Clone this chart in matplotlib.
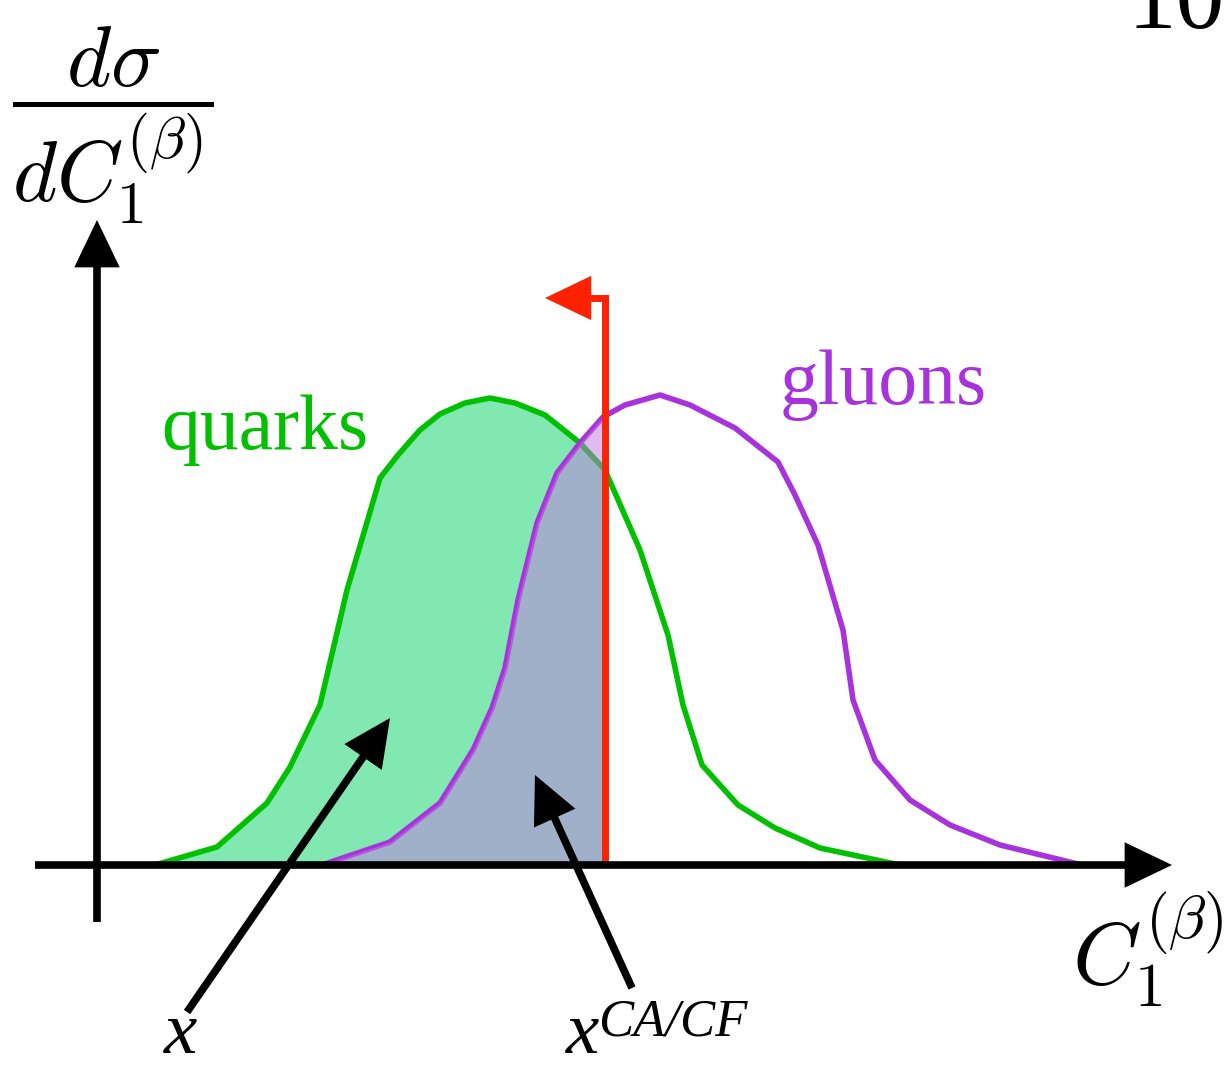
import numpy as np
import matplotlib
matplotlib.use('Agg')
import matplotlib.pyplot as plt
from matplotlib.patches import FancyArrowPatch
from matplotlib.path import Path

plt.rcParams['mathtext.fontset'] = 'cm'

# quark and gluon spectra (sketch units), as piecewise-linear profiles
quark_c = [0.58, 1.20, 1.70, 1.93, 2.23, 2.50, 2.83, 3.01, 3.23, 3.43,
           3.68, 3.93, 4.18, 4.48, 4.83, 5.08, 5.43, 5.71, 5.86, 6.05,
           6.41, 6.78, 7.23, 8.03]
quark_y = [0.00, 0.18, 0.62, 0.98, 1.60, 2.75, 3.87, 4.10, 4.35, 4.51,
           4.62, 4.67, 4.62, 4.50, 4.22, 3.95, 3.15, 2.30, 1.60, 1.00,
           0.60, 0.37, 0.17, 0.00]

gluon_c = [2.25, 2.93, 3.43, 3.76, 3.95, 4.08, 4.21, 4.40, 4.60, 4.83,
           5.06, 5.28, 5.63, 5.93, 6.38, 6.81, 6.98, 7.21, 7.46, 7.56,
           7.78, 8.13, 8.53, 9.03, 9.85]
gluon_y = [0.00, 0.23, 0.62, 1.15, 1.57, 1.97, 2.65, 3.42, 3.92, 4.22,
           4.48, 4.60, 4.70, 4.60, 4.37, 4.03, 3.70, 3.20, 2.35, 1.65,
           1.05, 0.65, 0.40, 0.20, 0.00]

cut = 5.08          # cut value on C_1
cut_top = 5.67      # height of the red cut marker
cut_tip = 4.48      # where the red arrow points

GREEN = '#00C000'
GREEN_FILL = '#80E8B0'
PURPLE = '#A833DC'
PURPLE_FILL = (193/255, 121/255, 225/255, 0.5)
RED = '#FF2200'


def below_cut(c, y, cut):
    # keep the part of a profile left of the cut, closing it on the cut line
    c = np.asarray(c)
    y = np.asarray(y)
    m = c < cut
    cc = np.append(c[m], cut)
    yy = np.append(y[m], np.interp(cut, c, y))
    return cc, yy


def arrow(ax, p0, p1, color='black', lw=5.5, hl=25, hw=12, z=10):
    a = FancyArrowPatch(p0, p1,
                        arrowstyle=f'-|>,head_length={hl},head_width={hw}',
                        mutation_scale=1, lw=lw, color=color,
                        shrinkA=0, shrinkB=0, zorder=z,
                        joinstyle='miter', capstyle='butt')
    ax.add_patch(a)


fig = plt.figure(figsize=(12.27, 10.67), dpi=100)
ax = fig.add_axes([0, 0, 1, 1])
ax.set_xlim(-0.97, 11.30)
ax.set_ylim(-2.02, 8.65)
ax.axis('off')

# accepted regions left of the cut
qc, qy = below_cut(quark_c, quark_y, cut)
gc, gy = below_cut(gluon_c, gluon_y, cut)
ax.fill_between(qc, 0, qy, color=GREEN_FILL, lw=0, zorder=1)
ax.plot(quark_c, quark_y, color=GREEN, lw=4, zorder=2)
ax.plot(gluon_c, gluon_y, color=PURPLE, lw=4, zorder=2)
ax.fill_between(gc, 0, gy, color=PURPLE_FILL, lw=0, zorder=3)

# red cut with arrow pointing to the kept side
red = FancyArrowPatch(path=Path([(cut, 0), (cut, cut_top), (cut_tip, cut_top)]),
                      arrowstyle='-|>,head_length=25,head_width=12',
                      mutation_scale=1, lw=5, color=RED, zorder=5,
                      joinstyle='miter', capstyle='butt')
ax.add_patch(red)

# axes drawn as arrows
arrow(ax, (-0.62, 0), (10.75, 0), z=6)
arrow(ax, (0, -0.57), (0, 6.45), z=6)

# pointers to the two regions
arrow(ax, (0.90, -1.47), (2.93, 1.47))
arrow(ax, (5.35, -1.23), (4.38, 0.90))

ax.text(1.68, 4.35, 'quarks', color=GREEN, fontsize=56,
        family='Liberation Serif', ha='center', va='center')
ax.text(7.86, 4.80, 'gluons', color=PURPLE, fontsize=56,
        family='Liberation Serif', ha='center', va='center')

ax.text(0.84, -1.88, 'x', fontsize=54, style='italic',
        family='Liberation Serif', ha='center', va='baseline')
ax.text(4.86, -1.88, 'x', fontsize=54, style='italic',
        family='Liberation Serif', ha='center', va='baseline')
ax.text(5.01, -1.70, 'CA/CF', fontsize=38, style='italic',
        family='Liberation Serif', ha='left', va='baseline')

ax.text(0.16, 7.40, r'$\dfrac{d\sigma}{dC_1^{(\beta)}}$', fontsize=61,
        ha='center', va='center')
ax.text(10.51, -0.85, r'$C_1^{(\beta)}$', fontsize=63,
        ha='center', va='center')

ax.text(10.31, 8.37, '10', fontsize=70, family='Liberation Serif',
        ha='left', va='baseline')

fig.savefig('out.png', dpi=100)
